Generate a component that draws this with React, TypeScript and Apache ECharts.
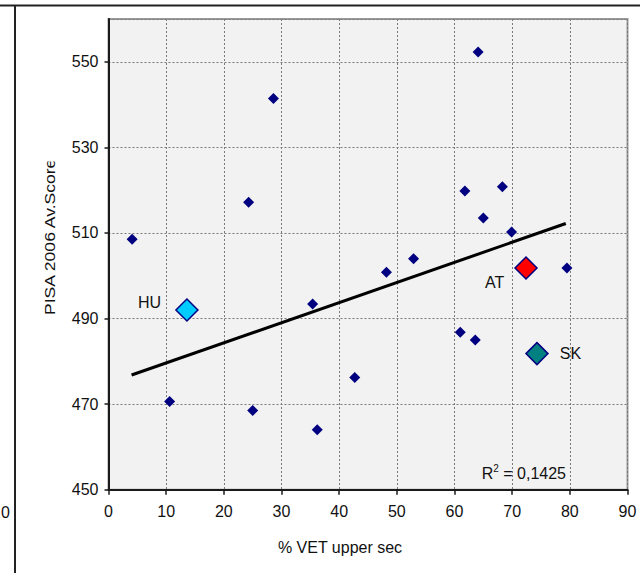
import React, { useEffect, useRef } from "react";
import * as echarts from "echarts";

// Small countries (navy diamonds)
const otherX = [4.1, 10.6, 24.3, 25.0, 28.6, 35.4, 36.2, 42.7, 48.2, 52.9, 61.0, 61.8, 63.6, 64.1, 65.0, 68.3, 69.9, 79.5];
const otherY = [508.5, 470.6, 517.2, 468.5, 541.4, 493.4, 464.0, 476.2, 500.8, 504.0, 486.8, 519.8, 485.0, 552.3, 513.5, 520.8, 510.2, 501.8];

// Highlighted countries
const hlNames = ["HU", "AT", "SK"];
const hlX = [13.6, 72.4, 74.3];
const hlY = [492.0, 501.8, 481.8];
const hlColors = ["#00ccff", "#ff0000", "#008080"];

// Linear trend line endpoints
const trendX = [4.0, 79.3];
const trendY = [476.8, 512.2];

const rSquared = "0,1425";
const xTitle = "% VET upper sec";
const yTitle = "PISA 2006 Av.Score";

const FONT = "Liberation Sans, Arial, sans-serif";

export default function App() {
  const ref = useRef<HTMLDivElement>(null);

  useEffect(() => {
    if (!ref.current) return;
    const chart = echarts.init(ref.current, undefined, { renderer: "svg" });

    const labelCfg: any[] = [
      { position: "left", distance: 14, offset: [0, -7] },
      { position: "left", distance: 10, offset: [0, 14] },
      { position: "right", distance: 11, offset: [0, 0] },
    ];

    const hlSeries = hlNames.map((n, i) => ({
      type: "scatter",
      name: n,
      data: [[hlX[i], hlY[i]]],
      symbol: "diamond",
      symbolSize: 22,
      itemStyle: { color: hlColors[i], borderColor: "#000080", borderWidth: 1.5, opacity: 1 },
      label: {
        show: true,
        formatter: n,
        color: "#111111",
        fontSize: 16,
        fontFamily: FONT,
        opacity: 1,
        ...labelCfg[i],
      },
      z: 5,
    }));

    chart.setOption({
      animation: false,
      backgroundColor: "#ffffff",
      textStyle: { fontFamily: FONT },
      grid: {
        left: 108.5,
        right: 12.5,
        top: 19,
        bottom: 83.3,
        show: true,
        backgroundColor: "#f2f2f2",
        borderColor: "#999999",
        borderWidth: 2,
      },
      xAxis: {
        type: "value",
        min: 0,
        max: 90,
        interval: 10,
        axisLine: { show: true, lineStyle: { color: "#1a1a1a", width: 2 } },
        axisTick: { show: true, inside: false, length: 5, lineStyle: { color: "#1a1a1a", width: 1.5 } },
        axisLabel: { color: "#111", fontSize: 16, fontFamily: FONT, margin: 14 },
        splitLine: { show: true, lineStyle: { color: "#7a7a7a", type: [2, 2], width: 1 } },
      },
      yAxis: {
        type: "value",
        min: 450,
        max: 560,
        interval: 20,
        axisLine: { show: true, lineStyle: { color: "#1a1a1a", width: 2 } },
        axisTick: { show: true, inside: false, length: 4, lineStyle: { color: "#1a1a1a", width: 1.5 } },
        axisLabel: { color: "#111", fontSize: 16, fontFamily: FONT, margin: 10, showMaxLabel: false },
        splitLine: { show: true, lineStyle: { color: "#7a7a7a", type: [2, 2], width: 1 } },
      },
      series: [
        {
          type: "line",
          data: trendX.map((x, i) => [x, trendY[i]]),
          symbol: "none",
          lineStyle: { color: "#000000", width: 3 },
          z: 3,
        },
        {
          type: "scatter",
          data: otherX.map((x, i) => [x, otherY[i]]),
          symbol: "diamond",
          symbolSize: 11,
          itemStyle: { color: "#000080", opacity: 1 },
          z: 4,
        },
        ...hlSeries,
      ],
      graphic: [
        // outer frame
        { type: "line", shape: { x1: 0, y1: 5.5, x2: 640, y2: 5.5 }, style: { stroke: "#222", lineWidth: 2 } },
        { type: "line", shape: { x1: 15, y1: 5, x2: 15, y2: 573 }, style: { stroke: "#222", lineWidth: 2 } },
        // label of neighbouring chart at left edge
        { type: "text", x: 1, y: 512.7, style: { text: "0", fill: "#111", font: `16px ${FONT}`, textAlign: "left", textVerticalAlign: "middle" } },
        // y axis title (clipped at top)
        {
          type: "text",
          x: 49,
          y: 315,
          rotation: Math.PI / 2,
          scaleX: 1.17,
          style: { text: yTitle, fill: "#111", font: `15px ${FONT}`, textAlign: "left", textVerticalAlign: "middle" },
          z: 10,
        },
        { type: "rect", shape: { x: 30, y: 60, width: 40, height: 101.5 }, style: { fill: "#ffffff" }, z: 11 },
        // x axis title
        { type: "text", x: 340, y: 547.3, style: { text: xTitle, fill: "#111", font: `16px ${FONT}`, textAlign: "center", textVerticalAlign: "middle" }, z: 10 },
        // R squared
        {
          type: "text",
          x: 481.7,
          y: 473,
          style: {
            text: "{a|R}{b|2}{a| = " + rSquared + "}",
            textAlign: "left",
            textVerticalAlign: "middle",
            rich: {
              a: { fontSize: 16, fontFamily: FONT, fill: "#111", color: "#111" },
              b: { fontSize: 10, fontFamily: FONT, fill: "#111", color: "#111", padding: [0, 0, 9, 0] },
            },
          },
          z: 10,
        },
      ],
    });

    return () => chart.dispose();
  }, []);

  return (
    <div
      ref={ref}
      style={{ position: "fixed", left: 0, top: 0, width: 640, height: 573 }}
    />
  );
}
